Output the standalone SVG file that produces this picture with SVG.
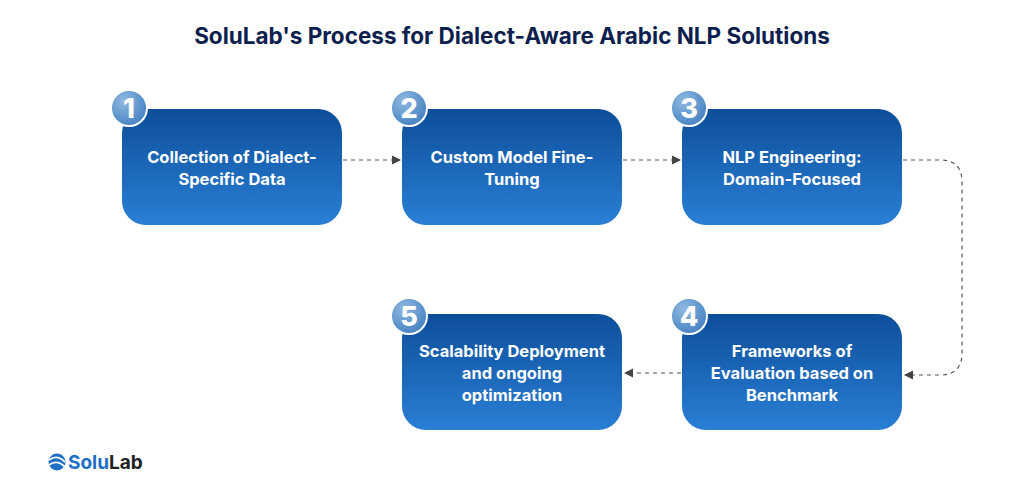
<svg xmlns="http://www.w3.org/2000/svg" width="1024" height="494" viewBox="0 0 1024 494">
<defs>
<linearGradient id="g" x1="0" y1="0" x2="0" y2="1"><stop offset="0" stop-color="#0d4e9a"/><stop offset="1" stop-color="#2a7fd6"/></linearGradient>
<radialGradient id="bg" cx="0.35" cy="0.3" r="0.8"><stop offset="0" stop-color="#8fb8e0"/><stop offset="1" stop-color="#3f7ec0"/></radialGradient>
<marker id="a" markerWidth="8" markerHeight="8" refX="7" refY="4" orient="auto"><path d="M0,0 L8,4 L0,8 Z" fill="#444"/></marker>
<style>
.box{fill:url(#g)}
.t{font-family:"Inter","Liberation Sans",sans-serif;font-weight:700;font-size:16.5px;fill:#fff;text-anchor:middle}
.n{font-family:"Inter","Liberation Sans",sans-serif;font-weight:800;font-size:27px;fill:#fff;text-anchor:middle}
.badge{fill:url(#bg);stroke:#fff;stroke-width:2}
.c{fill:none;stroke:#555;stroke-width:1.2;stroke-dasharray:4 4;marker-end:url(#a)}
</style>
</defs>
<rect width="1024" height="494" fill="#fff"/>
<text x="512" y="44" font-family="Inter,'Liberation Sans',sans-serif" font-weight="700" font-size="22.5" fill="#0d1f4f" text-anchor="middle">SoluLab's Process for Dialect-Aware Arabic NLP Solutions</text>
<g id="connectors">
<path class="c" d="M343,160 L400,160"/>
<path class="c" d="M623,160 L680,160"/>
<path class="c" d="M903,160 L940,160 Q962,160 962,182 L962,353 Q962,375 940,375 L905,375"/>
<path class="c" d="M681,373 L625,373"/>
</g>
<g id="n1"><rect class="box" x="122" y="109" width="220" height="116" rx="24"/><circle class="badge" cx="129" cy="108" r="18"/><text class="n" x="129" y="118">1</text><text class="t" x="232" y="163">Collection of Dialect-</text><text class="t" x="232" y="185">Specific Data</text></g>
<g id="n2"><rect class="box" x="402" y="109" width="220" height="116" rx="24"/><circle class="badge" cx="409" cy="108" r="18"/><text class="n" x="409" y="118">2</text><text class="t" x="512" y="163">Custom Model Fine-</text><text class="t" x="512" y="185">Tuning</text></g>
<g id="n3"><rect class="box" x="682" y="109" width="220" height="116" rx="24"/><circle class="badge" cx="689" cy="108" r="18"/><text class="n" x="689" y="118">3</text><text class="t" x="792" y="163">NLP Engineering:</text><text class="t" x="792" y="185">Domain-Focused</text></g>
<g id="n4"><rect class="box" x="682" y="314" width="220" height="116" rx="24"/><circle class="badge" cx="689" cy="316" r="18"/><text class="n" x="689" y="326">4</text><text class="t" x="792" y="357">Frameworks of</text><text class="t" x="792" y="379">Evaluation based on</text><text class="t" x="792" y="401">Benchmark</text></g>
<g id="n5"><rect class="box" x="402" y="314" width="220" height="116" rx="24"/><circle class="badge" cx="409" cy="316" r="18"/><text class="n" x="409" y="326">5</text><text class="t" x="512" y="357">Scalability Deployment</text><text class="t" x="512" y="379">and ongoing</text><text class="t" x="512" y="401">optimization</text></g>
<g id="logo"><circle cx="57" cy="462" r="8.5" fill="#1f6fc4"/><path d="M49,460 Q57,454 65,462 M49,465 Q57,459 65,467" stroke="#fff" stroke-width="1.8" fill="none"/><text x="68" y="469" font-family="Inter,'Liberation Sans',sans-serif" font-weight="700" font-size="19"><tspan fill="#1f6fc4">Solu</tspan><tspan fill="#222">Lab</tspan></text></g>
</svg>
